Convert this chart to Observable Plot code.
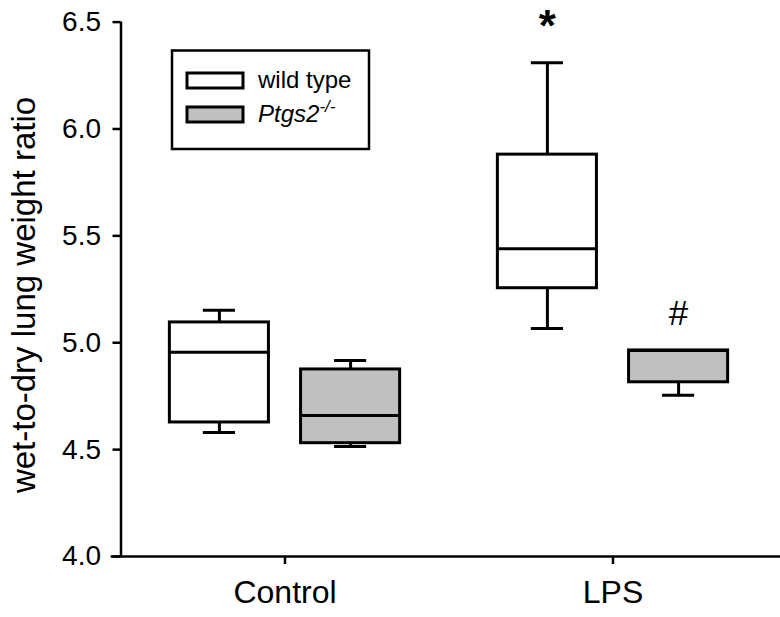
<!DOCTYPE html>
<html><head><meta charset="utf-8">
<script src="https://cdn.jsdelivr.net/npm/d3@7"></script>
<script src="https://cdn.jsdelivr.net/npm/@observablehq/plot@0.6"></script>
<style>
html,body{margin:0;padding:0;background:#fff}
#chart svg{display:block}
</style>
</head><body><div id="chart"></div>
<script>
// ---- data ----
const groups = ["Control", "LPS"];
const genotypes = ["wild type", "Ptgs2-/-"];
const boxGroup = ["Control", "Control", "LPS", "LPS"];
const boxGenotype = ["wild type", "Ptgs2-/-", "wild type", "Ptgs2-/-"];
const whiskerLow  = [4.580, 4.515, 5.067, 4.754];
const quart1      = [4.627, 4.530, 5.255, 4.815];
const median      = [4.955, 4.660, 5.440, 4.964];
const quart3      = [5.095, 4.875, 5.880, 4.964];
const whiskerHigh = [5.152, 4.917, 6.310, 4.964];
const yTicks = [4.0, 4.5, 5.0, 5.5, 6.0, 6.5];
const noteText = ["*", "#"];
const noteGroup = ["LPS", "LPS"];
const noteGenotype = ["wild type", "Ptgs2-/-"];
const noteY = [6.515, 5.135];

const fills = {"wild type": "#ffffff", "Ptgs2-/-": "#c0c0c0"};
const rows = boxGroup.map((g, i) => ({
  group: g, genotype: boxGenotype[i],
  lo: whiskerLow[i], q1: quart1[i], med: median[i], q3: quart3[i], hi: whiskerHigh[i]
}));
const notes = noteText.map((t, i) => ({text: t, group: noteGroup[i], genotype: noteGenotype[i], y: noteY[i]}));

const OFFSET = 0.2, HALF = 0.151, CAP = 0.049;
const pos = d => groups.indexOf(d.group) + (genotypes.indexOf(d.genotype) - 0.5) * 2 * OFFSET;

const font = "'Liberation Sans', Arial, Helvetica, sans-serif";

const chart = Plot.plot({
  width: 780, height: 617,
  marginLeft: 120.5, marginRight: 3.5, marginTop: 21.6, marginBottom: 61,
  x: {domain: [-0.5, 1.5], axis: null},
  y: {domain: [4, 6.5], axis: null},
  style: {fontFamily: font, background: "#fff", color: "#000", overflow: "visible"},
  marks: [
    // axes lines
    Plot.ruleX([-0.5], {y1: 4, y2: 6.5, stroke: "#000", strokeWidth: 2.5}),
    Plot.ruleY([4], {x1: -0.53, x2: 1.52, stroke: "#000", strokeWidth: 2.5}),
    Plot.axisY({ticks: yTicks, tickSize: 8, tickPadding: 12, tickFormat: d3.format(".1f"),
                fontSize: 28, label: null, strokeWidth: 2.5}),
    Plot.axisX({ticks: [0, 1], tickSize: 8, tickPadding: 16, tickFormat: i => groups[i],
                fontSize: 32, label: null, strokeWidth: 2.5}),
    // whiskers
    Plot.ruleX(rows, {x: pos, y1: "q3", y2: "hi", stroke: "#000", strokeWidth: 3}),
    Plot.ruleX(rows, {x: pos, y1: "q1", y2: "lo", stroke: "#000", strokeWidth: 3}),
    Plot.ruleY(rows, {y: "hi", x1: d => pos(d) - CAP, x2: d => pos(d) + CAP, stroke: "#000", strokeWidth: 3}),
    Plot.ruleY(rows, {y: "lo", x1: d => pos(d) - CAP, x2: d => pos(d) + CAP, stroke: "#000", strokeWidth: 3}),
    // boxes
    Plot.rect(rows, {x1: d => pos(d) - HALF, x2: d => pos(d) + HALF, y1: "q1", y2: "q3",
                     fill: d => fills[d.genotype], stroke: "#000", strokeWidth: 3, strokeLinejoin: "miter"}),
    Plot.ruleY(rows, {y: "med", x1: d => pos(d) - HALF, x2: d => pos(d) + HALF, stroke: "#000", strokeWidth: 3}),
    // significance marks
    Plot.text(notes.filter(d => d.text === "*"), {x: pos, y: "y", text: "text", fontSize: 44, fontWeight: "bold", dy: 8}),
    Plot.text(notes.filter(d => d.text === "#"), {x: pos, y: "y", text: "text", fontSize: 35})
  ]
});
document.getElementById("chart").appendChild(chart);

const svg = d3.select(chart);
// y axis title
svg.append("text")
  .attr("transform", "translate(35,295) rotate(-90)")
  .attr("text-anchor", "middle")
  .attr("font-family", font).attr("font-size", 33).attr("fill", "#000")
  .text("wet-to-dry lung weight ratio");

// legend
const lg = svg.append("g").attr("font-family", font).attr("font-size", 24).attr("text-anchor", "start");
lg.append("rect").attr("x", 172).attr("y", 50.5).attr("width", 197).attr("height", 98.5)
  .attr("fill", "#fff").attr("stroke", "#000").attr("stroke-width", 2.5);
genotypes.forEach((g, i) => {
  const yy = 73 + i * 34;
  lg.append("rect").attr("x", 187).attr("y", yy).attr("width", 56).attr("height", 15)
    .attr("fill", fills[g]).attr("stroke", "#000").attr("stroke-width", 3);
  const t = lg.append("text").attr("x", 258).attr("y", yy + 14.5).attr("fill", "#000")
    .attr("text-anchor", "start");
  if (i === 0) t.text(g);
  else {
    t.append("tspan").attr("font-style", "italic").text("Ptgs2");
    t.append("tspan").attr("font-style", "italic").attr("font-size", 17).attr("dy", -10).text("-/-");
  }
});
</script>
</body></html>
